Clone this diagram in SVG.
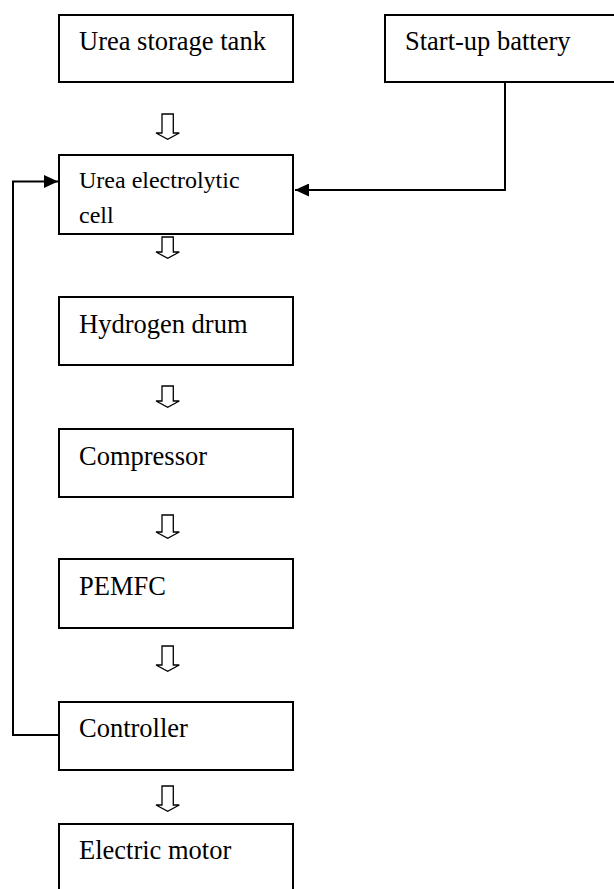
<svg xmlns="http://www.w3.org/2000/svg" width="614" height="889" viewBox="0 0 614 889">
<style>
.box{fill:#fff;stroke:#000;stroke-width:2}
text{font-family:'Liberation Serif','Times New Roman',serif;fill:#000}
.t{font-size:26.5px}
.ts{font-size:24px}
.conn{fill:none;stroke:#000;stroke-width:2}
.hollow{fill:#fff;stroke:#000;stroke-width:1.3;stroke-linejoin:miter}
</style>
<defs>
<marker id="ah" markerWidth="14" markerHeight="13" refX="14" refY="6.5" orient="auto" markerUnits="userSpaceOnUse">
<path d="M0,0 L14,6.5 L0,13 Z" fill="#000"/>
</marker>
</defs>
<rect width="614" height="889" fill="#fff"/>
<g id="connectors">
<path class="conn" d="M505,82 V190 H295" marker-end="url(#ah)"/>
<path class="conn" d="M59,735 H13 V181.5 H58" marker-end="url(#ah)"/>
<path class="hollow" d="M162,114 H173.3 V133 H179.3 L167.7,139.3 L156,133 H162 Z"/>
<path class="hollow" d="M162,237 H173.3 V252 H179.3 L167.7,258.3 L156,252 H162 Z"/>
<path class="hollow" d="M162,386 H173.3 V401 H179.3 L167.7,407.3 L156,401 H162 Z"/>
<path class="hollow" d="M162,515 H173.3 V532 H179.3 L167.7,538.3 L156,532 H162 Z"/>
<path class="hollow" d="M162,646 H173.3 V665 H179.3 L167.7,671.3 L156,665 H162 Z"/>
<path class="hollow" d="M162,786 H173.3 V805 H179.3 L167.7,811.3 L156,805 H162 Z"/>
</g>
<g id="tank"><rect class="box" x="59" y="15" width="234" height="67"/><text class="t" x="79" y="50">Urea storage tank</text></g>
<g id="battery"><rect class="box" x="385" y="15" width="240" height="67"/><text class="t" x="405" y="50">Start-up battery</text></g>
<g id="cell"><rect class="box" x="59" y="155" width="234" height="79"/><text class="ts" x="79" y="188">Urea electrolytic</text><text class="ts" x="79" y="223">cell</text></g>
<g id="hydrogen"><rect class="box" x="59" y="297" width="234" height="68"/><text class="t" x="79" y="333">Hydrogen drum</text></g>
<g id="compressor"><rect class="box" x="59" y="429" width="234" height="68"/><text class="t" x="79" y="465">Compressor</text></g>
<g id="pemfc"><rect class="box" x="59" y="559" width="234" height="69"/><text class="t" x="79" y="595">PEMFC</text></g>
<g id="controller"><rect class="box" x="59" y="702" width="234" height="68"/><text class="t" x="79" y="737">Controller</text></g>
<g id="motor"><rect class="box" x="59" y="824" width="234" height="80"/><text class="t" x="79" y="859">Electric motor</text></g>
</svg>
